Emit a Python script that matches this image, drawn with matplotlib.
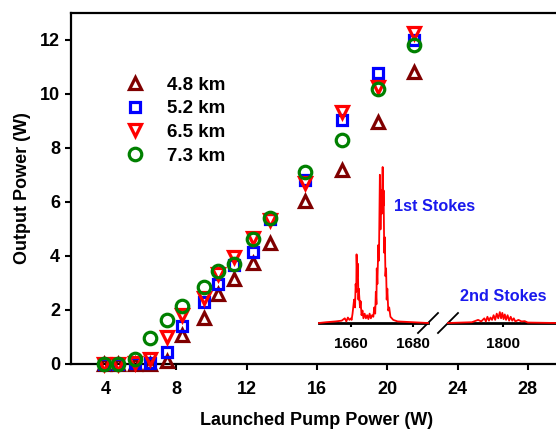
import numpy as np
import matplotlib.pyplot as plt

plt.rcParams['font.family'] = ['Liberation Sans', 'DejaVu Sans']
plt.rcParams['font.weight'] = 'bold'

# launched pump power (W)
pump = [3.9, 4.7, 5.65, 6.5, 7.45, 8.3, 9.55, 10.35, 11.3, 12.35, 13.35, 15.3, 17.4, 19.45, 21.5]

# output power (W) for each fibre length
p48 = [0.0, 0.0, 0.0, 0.0, 0.12, 1.07, 1.69, 2.6, 3.15, 3.73, 4.48, 6.02, 7.2, 8.97, 10.8]
p52 = [0.0, 0.0, 0.03, 0.02, 0.46, 1.41, 2.31, 2.97, 3.67, 4.16, 5.37, 6.8, 9.05, 10.78, 12.0]
p65 = [0.0, 0.0, 0.02, 0.17, 1.0, 1.8, 2.45, 3.35, 3.95, 4.65, 5.33, 6.7, 9.35, 10.27, 12.27]
p73 = [0.0, 0.0, 0.18, 0.98, 1.63, 2.13, 2.85, 3.43, 3.7, 4.62, 5.4, 7.1, 8.3, 10.2, 11.8]

labels = ['4.8 km', '5.2 km', '6.5 km', '7.3 km']
colors = ['#800000', '#0000ff', '#ff0000', '#008000']
markers = ['^', 's', 'v', 'o']
msizes = [8.5, 7.5, 8.5, 9]

# inset spectrum (wavelength nm, intensity a.u.), 1st Stokes region
wl1 = [1649.7, 1652, 1655, 1657, 1658, 1658.5, 1659, 1659.5, 1660, 1660.2, 1660.5, 1661.0,
       1661.3, 1661.5, 1661.7, 1661.8, 1662.0, 1662.2, 1662.4, 1662.5, 1662.9, 1663.1, 1663.4,
       1663.7, 1664, 1664.4, 1664.8, 1665.2, 1665.6, 1666, 1666.4, 1666.8, 1667.2, 1667.5,
       1667.8, 1668.0, 1668.2, 1668.3, 1668.5, 1668.8, 1669.0, 1669.3, 1669.5, 1669.7, 1669.9,
       1670.2, 1670.4, 1670.5, 1670.7, 1670.9, 1671.1, 1671.3, 1671.5, 1671.7, 1672.0, 1672.3,
       1672.7, 1673.6, 1675, 1680, 1684.8]
sp1 = [0.0, 0.005, 0.01, 0.015, 0.03, 0.01, 0.035, 0.02, 0.03, 0.02, 0.06, 0.15,
       0.1, 0.25, 0.2, 0.44, 0.3, 0.38, 0.15, 0.22, 0.1, 0.14, 0.05,
       0.08, 0.03, 0.06, 0.03, 0.05, 0.025, 0.06, 0.03, 0.05, 0.04, 0.1,
       0.06, 0.2, 0.12, 0.35, 0.25, 0.5, 0.4, 0.95, 0.6, 0.85, 0.7,
       1.0, 0.75, 0.85, 0.45, 0.55, 0.3, 0.35, 0.15, 0.22, 0.08, 0.1,
       0.04, 0.02, 0.01, 0.005, 0.0]

# 2nd Stokes region
wl2 = [1782.3, 1790, 1792, 1793, 1794, 1794.5, 1795, 1795.5, 1796, 1796.5, 1797, 1797.5,
       1798, 1798.5, 1799, 1799.4, 1799.8, 1800.2, 1800.6, 1801, 1801.5, 1802, 1802.5,
       1803, 1803.5, 1804, 1805, 1806, 1807, 1808, 1817.1]
sp2 = [0.0, 0.005, 0.02, 0.01, 0.03, 0.01, 0.04, 0.015, 0.035, 0.02, 0.05, 0.02,
       0.06, 0.03, 0.07, 0.03, 0.065, 0.025, 0.055, 0.02, 0.05, 0.015, 0.04,
       0.015, 0.03, 0.01, 0.02, 0.01, 0.012, 0.003, 0.0]

fig = plt.figure(figsize=(5.56, 4.30), dpi=100)
ax = fig.add_axes([71/556, 66/430, 492/556, 351/430])

series = [p48, p52, p65, p73]
for y, lab, c, m, ms in zip(series, labels, colors, markers, msizes):
    ax.plot(pump, y, linestyle='none', marker=m, ms=ms, mfc='none', mec=c,
            mew=2.3, label=lab, clip_on=False, zorder=3)

ax.set_xlim(2, 30)
ax.set_ylim(0, 13)
ax.set_xticks([4, 8, 12, 16, 20, 24, 28])
ax.set_yticks([0, 2, 4, 6, 8, 10, 12])
ax.tick_params(direction='out', length=4, width=1.5, labelsize=13)
ax.tick_params(axis='x', pad=8)
ax.tick_params(axis='y', pad=4)
for s in ['left', 'bottom', 'top']:
    ax.spines[s].set_linewidth(1.6)
ax.spines['right'].set_visible(False)
ax.set_xlabel('Launched Pump Power (W)', fontsize=13, fontweight='bold', labelpad=10)
ax.set_ylabel('Output Power (W)', fontsize=13, fontweight='bold', labelpad=6)

ax.legend(loc='upper left', bbox_to_anchor=(0.1105, 0.819), frameon=False,
          fontsize=13.5, handlelength=1.0, handletextpad=1.24, labelspacing=0.35,
          borderaxespad=0, borderpad=0)

# inset spectrum, broken wavelength axis
ins1 = fig.add_axes([319/556, 107/430, 109/556, 156/430])
ins2 = fig.add_axes([448/556, 107/430, 108/556, 156/430])
ins1.plot(wl1, sp1, color='red', lw=1.3, clip_on=False, zorder=3)
ins2.plot(wl2, sp2, color='red', lw=1.3, clip_on=False, zorder=3)
ins1.set_xlim(1649.7, 1684.8)
ins2.set_xlim(1782.3, 1817.1)
ins1.set_xticks([1660, 1680])
ins2.set_xticks([1800])
for a in (ins1, ins2):
    a.set_ylim(0, 1)
    a.patch.set_visible(False)
    for s in ['left', 'right', 'top']:
        a.spines[s].set_visible(False)
    a.spines['bottom'].set_linewidth(2)
    a.set_yticks([])
    a.tick_params(axis='x', direction='out', length=3, width=1.5, labelsize=11, pad=7)

d = dict(color='k', lw=1.3, clip_on=False)
ins1.plot([1 - 10/109, 1 + 10/109], [-0.064, 0.064], transform=ins1.transAxes, **d)
ins2.plot([-10/108, 10/108], [-0.064, 0.064], transform=ins2.transAxes, **d)

ins1.text(1673.9, 0.744, '1st Stokes', color='#1a1aee', fontsize=11.7, fontweight='bold',
          ha='left', va='center')
ins2.text(1800.2, 0.173, '2nd Stokes', color='#1a1aee', fontsize=11.7, fontweight='bold',
          ha='center', va='center')

fig.savefig('out.png', dpi=100)
